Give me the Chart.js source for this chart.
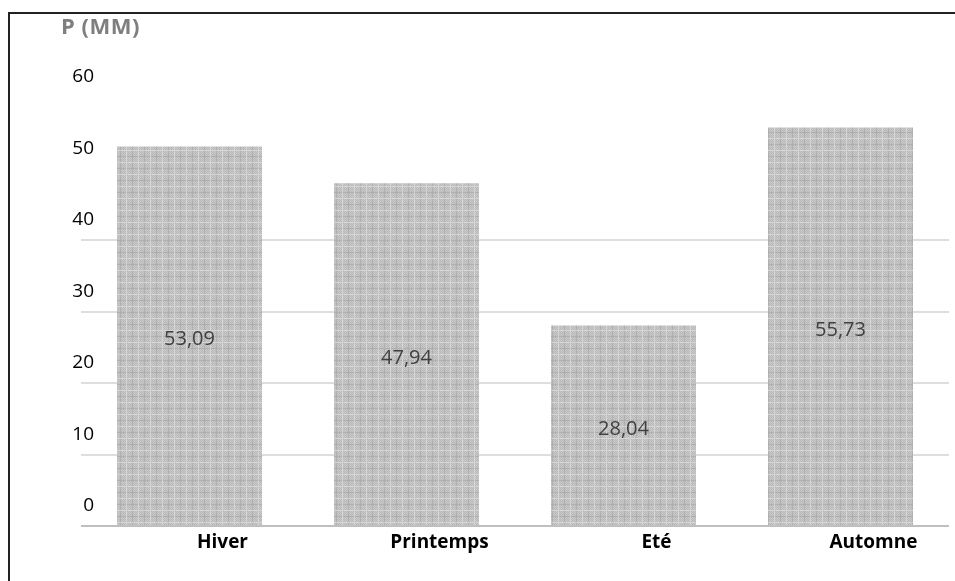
<!DOCTYPE html>
<html>
<head>
<meta charset="utf-8">
<script src="https://cdn.jsdelivr.net/npm/chart.js@4/dist/chart.umd.min.js"></script>
<style>
  html, body { margin: 0; padding: 0; background: #ffffff; }
  #wrap { position: relative; width: 955px; height: 581px; }
</style>
</head>
<body>
<div id="wrap"><canvas id="chart" width="955" height="581"></canvas></div>
<script>
// Seasonal precipitation (mm)
const seasons = ['Hiver', 'Printemps', 'Eté', 'Automne'];
const precipitation = [53.09, 47.94, 28.04, 55.73];
const yTicks = [0, 10, 20, 30, 40, 50, 60];
const axisTitle = 'P (MM)';

const FONT = '"Open Sans", Lato, sans-serif';

// Fine woven grey texture used to fill the bars
function makeTexture() {
  const c = document.createElement('canvas');
  c.width = 12; c.height = 12;
  const g = c.getContext('2d');
  g.fillStyle = '#c9c9c9';
  g.fillRect(0, 0, 12, 12);
  g.fillStyle = '#b9b9b9';
  for (let y = 0; y < 12; y++) {
    for (let x = 0; x < 12; x++) {
      if ((x + y) % 2 === 0) g.fillRect(x, y, 1, 1);
    }
  }
  g.fillStyle = '#afafaf';
  g.fillRect(0, 0, 12, 1);
  g.fillRect(0, 0, 1, 12);
  g.fillStyle = '#d6d6d6';
  g.fillRect(0, 6, 12, 1);
  g.fillRect(6, 0, 1, 12);
  return g.createPattern(c, 'repeat');
}

// Frame lines on the left and top, plus the axis caption
const framePlugin = {
  id: 'frame',
  afterDraw(chart) {
    const ctx = chart.ctx;
    ctx.save();
    ctx.strokeStyle = '#222222';
    ctx.lineWidth = 2;
    ctx.beginPath();
    ctx.moveTo(9, 581);
    ctx.lineTo(9, 13);
    ctx.lineTo(955, 13);
    ctx.stroke();
    ctx.fillStyle = '#7f7f7f';
    ctx.font = 'bold 22px ' + FONT;
    ctx.textAlign = 'left';
    ctx.textBaseline = 'middle';
    ctx.letterSpacing = '0.5px';
    ctx.fillText(axisTitle, 61, 28);
    ctx.restore();
  }
};

// Value written in the middle of each bar
const valueLabels = {
  id: 'valueLabels',
  afterDatasetsDraw(chart) {
    const ctx = chart.ctx;
    const meta = chart.getDatasetMeta(0);
    ctx.save();
    ctx.fillStyle = '#404040';
    ctx.font = '20px ' + FONT;
    ctx.textAlign = 'center';
    ctx.textBaseline = 'middle';
    meta.data.forEach((bar, i) => {
      const v = chart.data.datasets[0].data[i];
      const txt = v.toFixed(2).replace('.', ',');
      ctx.fillText(txt, bar.x, (bar.y + bar.base) / 2 + 4);
    });
    ctx.restore();
  }
};

new Chart(document.getElementById('chart'), {
  type: 'bar',
  data: {
    labels: seasons,
    datasets: [{
      data: precipitation,
      backgroundColor: makeTexture(),
      borderWidth: 0,
      categoryPercentage: 1,
      barPercentage: 0.668
    }]
  },
  options: {
    responsive: false,
    animation: false,
    layout: { padding: { top: 97, right: 6, bottom: 0, left: 0 } },
    plugins: {
      legend: { display: false },
      tooltip: { enabled: false },
      title: { display: false }
    },
    scales: {
      x: {
        grid: { display: false },
        border: { display: false },
        ticks: {
          color: '#000000',
          font: { family: FONT, size: 19, weight: 'bold' },
          labelOffset: 33,
          padding: -3,
          maxRotation: 0
        },
        afterFit(scale) { scale.height = 55; }
      },
      y: {
        min: 0,
        max: 60,
        afterBuildTicks(scale) { scale.ticks = yTicks.map(v => ({ value: v })); },
        border: { display: false },
        grid: {
          drawTicks: false,
          lineWidth: 2,
          color(ctx) {
            const v = ctx.tick ? ctx.tick.value : 0;
            if (v === 0) return '#bfbfbf';
            if (v <= 40) return '#dedede';
            return 'rgba(0,0,0,0)';
          }
        },
        ticks: {
          color: '#000000',
          font: { family: FONT, size: 19 },
          padding: -13,
          labelOffset: -20
        },
        afterFit(scale) {
          scale.width = 81;
          // tick labels reach a little into the plot area, so do not clip them to the axis box
          scale._computeLabelArea = () => undefined;
        }
      }
    }
  },
  plugins: [framePlugin, valueLabels]
});
</script>
</body>
</html>
